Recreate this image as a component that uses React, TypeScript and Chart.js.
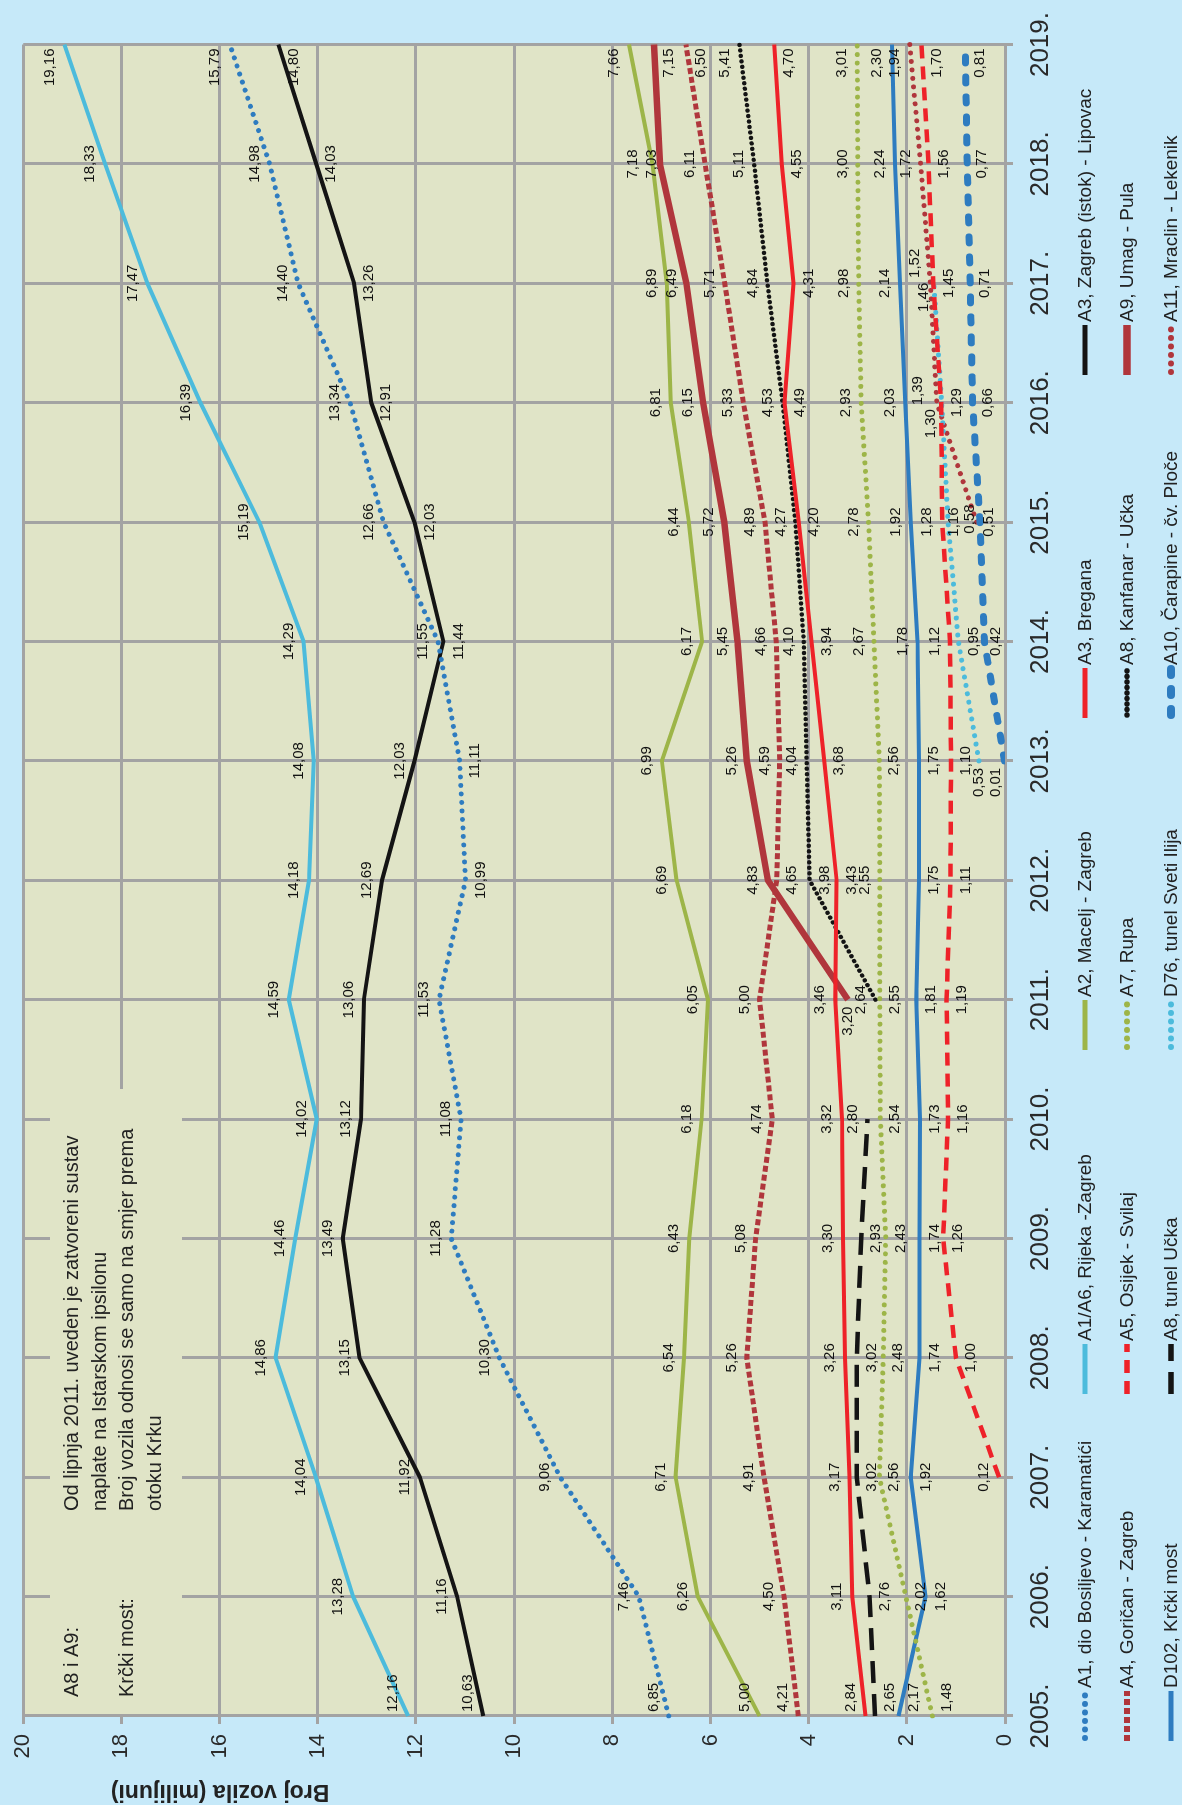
import React, { useEffect, useRef } from 'react';
import { Chart, registerables } from 'chart.js';

Chart.register(...registerables);

// ---------------- DATA ----------------
const yearLabels = ['2005.', '2006.', '2007.', '2008.', '2009.', '2010.', '2011.', '2012.', '2013.', '2014.', '2015.', '2016.', '2017.', '2018.', '2019.'];

const a1Bosiljevo = [6.85, 7.46, 9.06, 10.30, 11.28, 11.08, 11.53, 10.99, 11.11, 11.55, 12.66, 13.34, 14.40, 14.98, 15.79];
const a1a6Rijeka = [12.16, 13.28, 14.04, 14.86, 14.46, 14.02, 14.59, 14.18, 14.08, 14.29, 15.19, 16.39, 17.47, 18.33, 19.16];
const a2Macelj = [5.00, 6.26, 6.71, 6.54, 6.43, 6.18, 6.05, 6.69, 6.99, 6.17, 6.44, 6.81, 6.89, 7.18, 7.66];
const a3Bregana = [2.84, 3.11, 3.17, 3.26, 3.30, 3.32, 3.46, 3.43, 3.68, 3.94, 4.20, 4.49, 4.31, 4.55, 4.70];
const a3Lipovac = [10.63, 11.16, 11.92, 13.15, 13.49, 13.12, 13.06, 12.69, 12.03, 11.44, 12.03, 12.91, 13.26, 14.03, 14.80];
const a4Gorican = [4.21, 4.50, 4.91, 5.26, 5.08, 4.74, 5.00, 4.65, 4.59, 4.66, 4.89, 5.33, 5.71, 6.11, 6.50];
const a5Osijek = [null, null, 0.12, 1.00, 1.26, 1.16, 1.19, 1.11, 1.10, 1.12, 1.28, 1.30, 1.46, 1.56, 1.70];
const a7Rupa = [1.48, 2.02, 2.56, 2.48, 2.43, 2.54, 2.55, 2.55, 2.56, 2.67, 2.78, 2.93, 2.98, 3.00, 3.01];
const a8Kanfanar = [null, null, null, null, null, null, 2.64, 3.98, 4.04, 4.10, 4.27, 4.53, 4.84, 5.11, 5.41];
const a9Umag = [null, null, null, null, null, null, 3.20, 4.83, 5.26, 5.45, 5.72, 6.15, 6.49, 7.03, 7.15];
const d102Krk = [2.17, 1.62, 1.92, 1.74, 1.74, 1.73, 1.81, 1.75, 1.75, 1.78, 1.92, 2.03, 2.14, 2.24, 2.30];
const a8Ucka = [2.65, 2.76, 3.02, 3.02, 2.93, 2.80, null, null, null, null, null, null, null, null, null];
const d76Ilija = [null, null, null, null, null, null, null, null, 0.53, 0.95, 1.16, 1.29, 1.45, null, null];
const a10Carapine = [null, null, null, null, null, null, null, null, 0.01, 0.42, 0.51, 0.66, 0.71, 0.77, 0.81];
const a11Mraclin = [null, null, null, null, null, null, null, null, null, null, 0.58, 1.39, 1.52, 1.72, 1.94];

const yMin = 0;
const yMax = 20;
const yStep = 2;

const yTitle = 'Broj vozila (milijuni)';
const noteLines = [
  ['A8 i A9:', 'Od lipnja 2011. uveden je zatvoreni sustav', 'naplate na Istarskom ipsilonu'],
  ['Krčki most:', 'Broj vozila odnosi se samo na smjer prema', 'otoku Krku'],
];

// ---------------- STYLE ----------------
const FONT = "'Liberation Sans', Arial, sans-serif";
const PAGE_BG = '#c6e9f9';
const PLOT_BG = '#e0e4c7';
const GRID = '#a3a3a3';
const TEXT = '#222222';
const BLUE = '#2e7cc0';
const LBLUE = '#4cbbdc';
const OLIVE = '#9db548';
const RED = '#ee2229';
const BLACK = '#141414';
const DRED = '#b0363c';

const W = 1805;
const H = 1182;

type Series = {
  label: string;
  data: (number | null)[];
  color: string;
  width: number;
  dash: number[];
  cap: 'butt' | 'round';
  pos: string; // label placement per year: a=above, b=below, l=left, -=none
};

const series: Series[] = [
  { label: 'A1, dio Bosiljevo - Karamatići', data: a1Bosiljevo, color: BLUE, width: 5, dash: [0.01, 8.5], cap: 'round', pos: 'aaaaaaabbaaaaaa' },
  { label: 'A1/A6, Rijeka -Zagreb', data: a1a6Rijeka, color: LBLUE, width: 4, dash: [], cap: 'butt', pos: 'aaaaaaaaaaaaaaa' },
  { label: 'A2, Macelj - Zagreb', data: a2Macelj, color: OLIVE, width: 4, dash: [], cap: 'butt', pos: 'aaaaaaaaaaaaaaa' },
  { label: 'A3, Bregana', data: a3Bregana, color: RED, width: 4, dash: [], cap: 'butt', pos: 'aaaaaaabbbbbbbb' },
  { label: 'A3, Zagreb (istok) - Lipovac', data: a3Lipovac, color: BLACK, width: 4, dash: [], cap: 'butt', pos: 'aaaaaaaaabbbbbb' },
  { label: 'A4, Goričan - Zagreb', data: a4Gorican, color: DRED, width: 5, dash: [6, 3], cap: 'butt', pos: 'aaaaaaabaaaaaab' },
  { label: 'A5, Osijek - Svilaj', data: a5Osijek, color: RED, width: 4.5, dash: [13, 8], cap: 'butt', pos: '--abbbbbbaaaabb' },
  { label: 'A7, Rupa', data: a7Rupa, color: OLIVE, width: 5, dash: [0.01, 8.5], cap: 'round', pos: 'bbbbbbbabaaaaaa' },
  { label: 'A8, Kanfanar - Učka', data: a8Kanfanar, color: BLACK, width: 4.5, dash: [0.01, 5.5], cap: 'round', pos: '------abaaaaaaa' },
  { label: 'A9, Umag - Pula', data: a9Umag, color: DRED, width: 6.5, dash: [], cap: 'butt', pos: '------laaaaaaab' },
  { label: 'D102, Krčki most', data: d102Krk, color: BLUE, width: 4, dash: [], cap: 'butt', pos: 'bbbbbbbbbaaaaaa' },
  { label: 'A8, tunel Učka', data: a8Ucka, color: BLACK, width: 4.5, dash: [22, 11], cap: 'butt', pos: 'bbbbba---------' },
  { label: 'D76, tunel Sveti Ilija', data: d76Ilija, color: LBLUE, width: 5, dash: [0.01, 8.5], cap: 'round', pos: '--------lbbbb--' },
  { label: 'A10, Čarapine - čv. Ploče', data: a10Carapine, color: BLUE, width: 7, dash: [6, 14], cap: 'round', pos: '--------lbbbbbb' },
  { label: 'A11, Mraclin - Lekenik', data: a11Mraclin, color: DRED, width: 5, dash: [0.01, 8.5], cap: 'round', pos: '----------aaaaa' },
];

// manual label nudges for crowded points: 'seriesIndex-yearIndex' -> [dx, dy] (label centre relative to point)
const labelNudges: Record<string, [number, number]> = {
  '2-13': [0, -20],
  '9-13': [0, -8],
  '14-12': [20, -16],
  '6-12': [-14, -9],
  '14-11': [12, -19],
  '6-11': [-21, -10],
  '12-10': [0, 6],
  '14-10': [3, -7],
  '13-10': [0, 9],
};

const fmt = (v: number) => v.toFixed(2).replace('.', ',');

const decorPlugin = {
  id: 'decor',
  beforeDraw(chart: any) {
    const { ctx, chartArea: a } = chart;
    ctx.save();
    ctx.fillStyle = PAGE_BG;
    ctx.fillRect(0, 0, chart.width, chart.height);
    ctx.fillStyle = PLOT_BG;
    ctx.fillRect(a.left, a.top, a.right - a.left, a.bottom - a.top);
    ctx.restore();
  },
  beforeDatasetsDraw(chart: any) {
    const { ctx, chartArea: a } = chart;
    ctx.save();
    // note box covering the grid
    ctx.fillStyle = PLOT_BG;
    ctx.fillRect(a.left + 2, 50, 625, 132);
    ctx.fillStyle = TEXT;
    ctx.font = `20px ${FONT}`;
    ctx.textAlign = 'left';
    ctx.textBaseline = 'middle';
    const rows = [[72, 100], [127, 155]];
    noteLines.forEach((ln, i) => {
      ctx.fillText(ln[0], 108, rows[i][0]);
      ctx.fillText(ln[1], 294, rows[i][0]);
      ctx.fillText(ln[2], 294, rows[i][1]);
    });
    ctx.restore();
  },
  afterDatasetsDraw(chart: any) {
    const { ctx, chartArea: a } = chart;
    ctx.save();
    ctx.font = `15px ${FONT}`;
    ctx.fillStyle = '#111111';
    ctx.textAlign = 'center';
    ctx.textBaseline = 'middle';
    series.forEach((s, di) => {
      const meta = chart.getDatasetMeta(di);
      s.data.forEach((v, j) => {
        if (v == null) return;
        const p = s.pos[j];
        if (!p || p === '-') return;
        const pt = meta.data[j];
        const txt = fmt(v);
        const w = ctx.measureText(txt).width;
        let cx = pt.x;
        let cy = pt.y;
        const nudge = labelNudges[`${di}-${j}`];
        if (nudge) {
          cx = pt.x + nudge[0];
          cy = pt.y + nudge[1];
        } else if (p === 'a') cy = pt.y - 15;
        else if (p === 'b') cy = pt.y + 15;
        else if (p === 'l') cx = pt.x - 7 - w / 2;
        cx = Math.max(a.left + 4 + w / 2, Math.min(a.right - 4 - w / 2, cx));
        cy = Math.max(a.top + 9, Math.min(a.bottom - 9, cy));
        ctx.fillText(txt, cx, cy);
      });
    });
    ctx.restore();
  },
  afterDraw(chart: any) {
    const { ctx } = chart;
    ctx.save();
    // y axis title
    ctx.translate(14, 220);
    ctx.rotate(-Math.PI / 2);
    ctx.font = `bold 23px ${FONT}`;
    ctx.fillStyle = TEXT;
    ctx.textAlign = 'center';
    ctx.textBaseline = 'middle';
    ctx.fillText(yTitle, 0, 0);
    ctx.restore();

    // legend (5 columns x 3 rows)
    const colX = [64, 411, 755, 1087, 1430];
    const rowY = [1085, 1127, 1171];
    ctx.save();
    ctx.font = `19px ${FONT}`;
    ctx.textBaseline = 'middle';
    ctx.textAlign = 'left';
    series.forEach((s, i) => {
      const x = colX[i % 5];
      const y = rowY[Math.floor(i / 5)];
      ctx.save();
      ctx.strokeStyle = s.color;
      ctx.lineWidth = s.width + 1;
      ctx.lineCap = s.cap;
      ctx.setLineDash(s.dash);
      ctx.beginPath();
      ctx.moveTo(x + (s.cap === 'round' ? 3 : 0), y);
      ctx.lineTo(x + 50, y);
      ctx.stroke();
      ctx.restore();
      ctx.fillStyle = TEXT;
      ctx.fillText(s.label, x + 53, y + 1);
    });
    ctx.restore();
  },
};

export default function App() {
  const ref = useRef<HTMLCanvasElement>(null);

  useEffect(() => {
    const canvas = ref.current;
    if (!canvas) return;
    const chart = new Chart(canvas, {
      type: 'line',
      data: {
        labels: yearLabels,
        datasets: series.map((s) => ({
          label: s.label,
          data: s.data,
          borderColor: s.color,
          backgroundColor: s.color,
          borderWidth: s.width,
          borderDash: s.dash,
          borderCapStyle: s.cap,
          borderJoinStyle: 'round',
          pointRadius: 0,
          pointHoverRadius: 0,
          tension: 0,
          fill: false,
          spanGaps: false,
        })),
      },
      options: {
        animation: false,
        responsive: false,
        devicePixelRatio: 1,
        events: [],
        layout: { padding: { left: 0, right: 43, top: 19, bottom: 0 } },
        plugins: { legend: { display: false }, tooltip: { enabled: false }, title: { display: false } },
        scales: {
          x: {
            type: 'category',
            offset: false,
            grid: { color: GRID, lineWidth: 3, tickLength: 8, drawTicks: true },
            border: { color: GRID, width: 3 },
            ticks: { color: '#2a2a2a', font: { family: FONT, size: 26 }, padding: 12, maxRotation: 0, autoSkip: false },
            afterFit: (s: any) => { s.height = 177; },
          },
          y: {
            min: yMin,
            max: yMax,
            grid: { color: GRID, lineWidth: 3, tickLength: 8, drawTicks: true },
            border: { color: GRID, width: 3 },
            ticks: { stepSize: yStep, color: '#2a2a2a', font: { family: FONT, size: 22 }, padding: 10 },
            afterFit: (s: any) => { s.width = 89; },
          },
        },
      },
      plugins: [decorPlugin],
    } as any);
    return () => chart.destroy();
  }, []);

  return (
    <div style={{ position: 'fixed', left: 0, top: 0, width: 1182, height: 1805, overflow: 'hidden', background: PAGE_BG }}>
      <div
        style={{
          position: 'absolute',
          left: 0,
          top: 0,
          width: W,
          height: H,
          transformOrigin: '0 0',
          transform: `rotate(-90deg) translate(-${W}px, 0px)`,
        }}
      >
        <canvas ref={ref} width={W} height={H} style={{ display: 'block', width: W, height: H }} />
      </div>
    </div>
  );
}
